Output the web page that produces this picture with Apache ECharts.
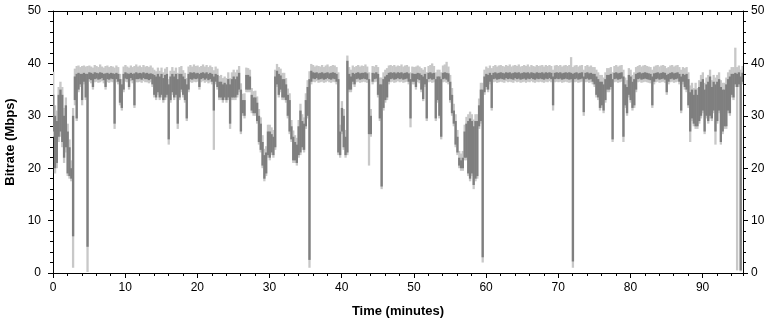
<!DOCTYPE html>
<html>
<head>
<meta charset="utf-8">
<script src="https://cdn.jsdelivr.net/npm/echarts@6/dist/echarts.min.js"></script>
<style>
  html, body { margin: 0; padding: 0; background: #fff; }
  #chart { width: 775px; height: 320px; }
</style>
</head>
<body>
<div id="chart"></div>
<script>
// one bin every quarter minute, starting at t = 0
const STEP = 0.25
const X_MAX = 95.6

// smoothed bitrate (dark trace): lowest / highest value in each bin, Mbps
const avgLow = [
  27, 20, 21, 26, 27, 25, 22, 24, 19, 18.5, 18, 7, 33, 29.5, 35, 36, 33, 36.5, 33.5, 5,
  37, 36.8, 35.5, 37, 37.1, 36.9, 37, 37.2, 36.8, 35.5, 37, 36.9, 37.1, 37, 28.5, 37, 36.5, 32.5, 31.5, 35,
  37.1, 37, 35.5, 37.2, 36.8, 32, 37, 37, 37.1, 36.9, 37.2, 37, 37, 36.8, 37, 36, 34, 33.5, 34.5, 33.5,
  34, 33, 33.5, 34, 25.5, 33, 34.5, 33.5, 34, 28.5, 33.5, 35, 34, 33, 29.5, 35, 37, 36.9, 37.1, 37,
  37.1, 35.5, 37, 37.2, 36.9, 37.1, 36.8, 37, 36.5, 31, 36.5, 35.5, 33.5, 33.5, 33, 33.5, 33, 33.5, 28.5, 33.5,
  33.5, 33.5, 34, 35, 27, 30.5, 30, 35, 35, 35, 31, 30.5, 30.5, 29, 25, 23.5, 20.5, 18, 19, 22.5,
  22, 23, 22.5, 24, 36, 34, 35, 33.5, 33.5, 33, 30, 27, 25.5, 21.5, 21.5, 21, 22.5, 23, 24, 23.5,
  28, 30, 2.5, 36.5, 37.1, 37, 37.2, 36.9, 37, 37.1, 36.9, 37, 37.2, 37, 36.9, 37.1, 37, 36.5, 23, 22.5,
  27, 24, 22.5, 23, 35, 35, 36.5, 36, 37, 37.1, 36.9, 37, 37.1, 37, 36.9, 26.5, 26.5, 36.5, 37, 37.1,
  34, 29.5, 16.5, 31.5, 33, 33.5, 36.5, 37, 37.1, 36.9, 37, 37.2, 37, 37.1, 36.9, 37, 37.1, 36.5, 29.5, 36.5,
  36.5, 35.5, 37, 36.8, 35, 33.2, 36, 29.5, 37, 37.1, 36.9, 37, 29.5, 33, 30, 26, 37, 37.1, 36.9, 36.5,
  33, 30.5, 28.5, 24.5, 23, 20.5, 20, 20, 22, 22, 19, 18, 19, 16.8, 18, 18.5, 28, 29, 3, 34.5,
  35.5, 35, 36.5, 31.5, 37, 37.1, 36.9, 37, 37.1, 37, 36.9, 37.2, 37, 37.1, 37, 36.9, 37.2, 37, 37.1, 36.9,
  37, 37.1, 36.9, 37.1, 37, 37.2, 37, 36.9, 37.1, 37, 37.1, 37, 36.9, 37.1, 37, 37.2, 37, 32, 37, 37.1,
  37, 37.1, 36.9, 37, 37.1, 37, 36.9, 37, 2.2, 37, 37.1, 36.9, 37, 37.1, 30.7, 37, 37.1, 36.9, 37, 36.5,
  36, 34, 33.5, 31.5, 32, 31, 33, 35, 35, 35.5, 25.5, 37, 37.1, 36.9, 37, 37.1, 26, 32, 30.5, 34,
  33, 31.5, 32, 35, 37, 37.1, 36.9, 37, 37.1, 37, 36.9, 36.8, 32, 36.5, 37, 37.1, 36.9, 37, 37.1, 36.9,
  34.5, 36.5, 37, 37.1, 36.9, 37, 37.1, 36.5, 31, 36.5, 35.5, 35, 32, 27, 29.5, 28.5, 28, 28, 29, 30,
  31, 27, 30, 29, 30, 29.5, 31, 27, 29, 31, 25, 27, 28, 28, 31, 30.5, 34, 33.5, 36, 35.5,
  36, 0.5, 36.5
]
const avgHigh = [
  34, 30, 29, 34, 35, 34, 30, 32, 27, 24, 20, 30, 37.5, 38, 38.2, 38, 38, 38.2, 38, 38,
  38.3, 38.2, 38, 38.3, 38.2, 38.1, 38.3, 38.2, 38, 38.1, 38.2, 38, 38.2, 38.1, 38, 38.2, 38, 37, 36, 38,
  38.3, 38.1, 38, 38.2, 38, 38.1, 38.3, 38.1, 38.2, 38.1, 38.3, 38.1, 38.2, 38, 38.1, 38, 37.8, 37.5, 38, 37.5,
  38, 37.2, 37.8, 38, 36, 37.5, 38, 37.5, 38, 37, 38, 38, 37.5, 37, 36, 38, 38.3, 38.2, 38.3, 38.1,
  38.2, 38, 38.2, 38.3, 38.1, 38.3, 38, 38.2, 38, 37.5, 38, 37.8, 36.5, 36.5, 36, 36.3, 36, 37, 36, 37,
  37.5, 37, 37.5, 38.2, 35, 33, 33, 37.8, 37.8, 37.5, 34, 33.5, 33.5, 32.5, 30, 28.5, 25, 22.5, 23, 27,
  27, 26.5, 26, 37.5, 38.6, 38, 37.7, 37, 37, 36, 34, 33, 28, 26, 25, 24.5, 28, 31, 29, 28.5,
  33, 35.5, 37, 38.6, 38.3, 38.2, 38.3, 38.1, 38.2, 38.3, 38.1, 38.2, 38.3, 38.1, 38.2, 38.3, 38.2, 38, 37, 27,
  31.5, 30, 26, 40.5, 38, 37.5, 38.2, 38, 38.2, 38.3, 38.1, 38.2, 38.2, 38.3, 38.1, 37, 30, 38.2, 38.1, 38.3,
  38, 36, 36, 37, 37.5, 37.8, 38.2, 38.3, 38.2, 38.3, 38.1, 38.3, 38.2, 38.3, 38.1, 38.2, 38.3, 38.1, 37, 38.1,
  38, 38, 38.2, 38.1, 37.8, 37.5, 38, 37, 38.2, 38.3, 38.1, 38.2, 37, 37.5, 37.5, 37, 38.2, 38.3, 38.2, 38.1,
  36.5, 34, 31, 29, 26, 22, 21.5, 22, 27, 28.5, 29, 29.5, 29, 28, 29, 29, 32, 35, 35, 37.5,
  38, 37.8, 38.2, 37.8, 38.2, 38.3, 38.1, 38.2, 38.3, 38.2, 38.1, 38.3, 38.2, 38.3, 38.1, 38.2, 38.3, 38.2, 38.3, 38.1,
  38.2, 38.3, 38.2, 38.3, 38.1, 38.3, 38.2, 38.1, 38.3, 38.2, 38.2, 38.3, 38.1, 38.3, 38.2, 38.3, 38.2, 37.5, 38.2, 38.3,
  38.2, 38.3, 38.1, 38.2, 38.3, 38.2, 38.3, 38.2, 38, 38.2, 38.3, 38.1, 38.2, 38.3, 37.5, 38.2, 38.3, 38.1, 38.2, 38,
  38, 37.5, 37, 36.5, 36.5, 36, 37, 37.8, 37.8, 38, 37, 38.2, 38.3, 38.1, 38.2, 38.3, 37.5, 36, 35.5, 37.8,
  37.5, 36.5, 37, 38, 38.2, 38.3, 38.1, 38.2, 38.3, 38.2, 38.1, 38, 37.5, 38.1, 38.2, 38.3, 38.1, 38.2, 38.3, 38.2,
  37.8, 38, 38.2, 38.3, 38.1, 38.2, 38.3, 38, 37.5, 38, 37.8, 38, 37, 34.5, 35, 34, 35, 34, 35.5, 36.5,
  37, 35, 36, 36.5, 37.5, 35.5, 36.5, 36, 36.5, 37, 35.5, 35, 35, 36, 37, 37.5, 38, 38, 38.2, 38,
  38.3, 37.5, 38.2
]

// raw bitrate (light trace): lowest / highest value in each bin, Mbps
const rawLow = [
  26, 19, 20, 25, 26, 24, 21, 23, 18.5, 18, 17.5, 1, 32, 29, 34.5, 35.5, 32, 36, 33, 0.2,
  36.5, 36.2, 35, 36.4, 36.5, 36.3, 36.4, 36.6, 36.2, 35, 36.4, 36.3, 36.5, 36.4, 27.5, 36.4, 36, 32, 31, 34.5,
  36.5, 36.4, 35, 36.6, 36.2, 31.5, 36.4, 36.4, 36.5, 36.3, 36.6, 36.4, 36.4, 36.2, 36.4, 35.5, 33.5, 33, 34, 33,
  33.5, 32.5, 33, 33.5, 24.5, 32.5, 34, 33, 33.5, 27.5, 33, 34.5, 33.5, 32.5, 29, 34.5, 36.4, 36.3, 36.5, 36.4,
  36.5, 35, 36.4, 36.6, 36.3, 36.5, 36.2, 36.4, 36, 23.5, 36, 35, 33, 33, 32.5, 33, 32.5, 33, 27.5, 33,
  33, 33, 33.5, 34.5, 26.5, 30, 29.5, 34.5, 34.5, 34.5, 30.5, 30, 30, 28.5, 24.5, 23, 20, 17.5, 18.5, 22,
  21.5, 22.5, 22, 23.5, 35.5, 33.5, 34.5, 33, 33, 32.5, 29.5, 26.5, 25, 21, 21, 20.5, 22, 22.5, 23.5, 23,
  27.5, 29.5, 1, 36, 36.5, 36.4, 36.6, 36.3, 36.4, 36.5, 36.3, 36.4, 36.6, 36.4, 36.3, 36.5, 36.4, 36, 22.5, 22,
  26.5, 23.5, 22, 22.5, 34.5, 34.5, 36, 35.5, 36.4, 36.5, 36.3, 36.4, 36.5, 36.4, 36.3, 20.5, 26, 36, 36.4, 36.5,
  33.5, 29, 16, 31, 32.5, 33, 36, 36.4, 36.5, 36.3, 36.4, 36.6, 36.4, 36.5, 36.3, 36.4, 36.5, 36, 27.8, 36,
  36, 35, 36.4, 36.2, 34.5, 32.8, 35.5, 29, 36.4, 36.5, 36.3, 36.4, 29, 32.5, 29.5, 25.5, 36.4, 36.5, 36.3, 36,
  32.5, 30, 28, 24, 22.5, 20, 19.5, 19.5, 21.5, 21.5, 18.5, 17.5, 18.5, 16, 17.5, 18, 27.5, 28.5, 2, 34,
  35, 34.5, 36, 31, 36.4, 36.5, 36.3, 36.4, 36.5, 36.4, 36.3, 36.6, 36.4, 36.5, 36.4, 36.3, 36.6, 36.4, 36.5, 36.3,
  36.4, 36.5, 36.3, 36.5, 36.4, 36.6, 36.4, 36.3, 36.5, 36.4, 36.5, 36.4, 36.3, 36.5, 36.4, 36.6, 36.4, 31, 36.4, 36.5,
  36.4, 36.5, 36.3, 36.4, 36.5, 36.4, 36.3, 36.4, 1, 36.4, 36.5, 36.3, 36.4, 36.5, 30, 36.4, 36.5, 36.3, 36.4, 36,
  35.5, 33.5, 33, 31, 31.5, 30.5, 32.5, 34.5, 34.5, 35, 25, 36.4, 36.5, 36.3, 36.4, 36.5, 25, 31.5, 30, 33.5,
  32.5, 31, 31.5, 34.5, 36.4, 36.5, 36.3, 36.4, 36.5, 36.4, 36.3, 36.2, 31.5, 36, 36.4, 36.5, 36.3, 36.4, 36.5, 36.3,
  34, 36, 36.4, 36.5, 36.3, 36.4, 36.5, 36, 30.5, 36, 35, 34.5, 31.5, 25, 29, 28, 27.5, 27.5, 28.5, 29.5,
  30.5, 26.5, 29.5, 28.5, 29.5, 29, 30.5, 24.5, 28.5, 30.5, 24.5, 26.5, 27.5, 27.5, 30.5, 30, 33.5, 33, 35.5, 0.5,
  35.5, 0.3, 36
]
const rawHigh = [
  38.4, 32, 31, 35.5, 36.5, 35.5, 31.5, 33.5, 28.5, 25.5, 21.5, 31.5, 39, 39.5, 39.6, 39.3, 39.5, 39.6, 39.4, 39.5,
  39.6, 39.4, 39.2, 39.7, 39.5, 39.3, 39.8, 39.4, 39.2, 39.5, 39.6, 39.3, 39.5, 39.4, 39.2, 39.6, 39.3, 38, 37, 39.4,
  39.7, 39.4, 39.2, 39.6, 39.3, 39.5, 39.8, 39.4, 39.6, 39.3, 39.7, 39.4, 39.5, 39.3, 39.6, 39.2, 38.8, 38.5, 39.2, 38.6,
  39.2, 38.3, 39, 39.3, 37, 38.6, 39.3, 38.6, 39.2, 38.2, 39.3, 39.5, 38.7, 38.2, 37.2, 39.4, 39.7, 39.4, 39.8, 39.5,
  39.6, 39.3, 39.5, 39.8, 39.4, 39.7, 39.3, 39.6, 39.3, 38.7, 39.4, 39, 37.6, 37.8, 37.2, 37.5, 37.2, 38.3, 37.2, 38.3,
  38.8, 38.3, 38.8, 39.5, 36.2, 34.2, 34.3, 39.2, 39.1, 38.8, 35.3, 34.7, 34.8, 33.7, 31.3, 29.7, 26.3, 23.7, 24.2, 28.3,
  28.3, 27.8, 27.3, 38.8, 39.9, 39.3, 39, 38.2, 38.2, 37.2, 35.2, 34.3, 29.2, 27.2, 26.3, 25.8, 29.2, 32.3, 30.3, 29.7,
  34.3, 36.8, 38.5, 39.9, 39.7, 39.4, 39.6, 39.5, 39.4, 39.7, 39.3, 39.6, 39.8, 39.4, 39.5, 39.7, 39.6, 39.3, 38.3, 28.3,
  32.8, 31.3, 27.3, 41.5, 39.3, 38.8, 39.6, 39.3, 39.5, 39.7, 39.4, 39.6, 39.5, 39.8, 39.4, 38.3, 31.3, 39.5, 39.4, 39.7,
  39.3, 37.3, 37.3, 38.3, 38.8, 39.1, 39.6, 39.7, 39.5, 39.7, 39.4, 39.6, 39.5, 39.8, 39.4, 39.6, 39.7, 39.4, 38.3, 39.4,
  39.3, 39.4, 39.6, 39.4, 39.1, 38.8, 39.3, 38.3, 39.5, 39.7, 40, 39.5, 38.3, 38.8, 38.8, 38.3, 39.6, 39.8, 40.3, 39.4,
  37.8, 35.3, 32.3, 30.3, 27.3, 23.3, 22.8, 23.3, 28.3, 29.8, 30.3, 30.8, 30.3, 29.3, 30.3, 30.3, 33.3, 36.3, 36.3, 38.8,
  39.4, 39.1, 39.6, 39.1, 39.5, 39.7, 39.4, 39.6, 39.7, 39.5, 39.4, 39.7, 39.5, 39.8, 39.4, 39.6, 39.7, 39.5, 39.8, 39.4,
  39.5, 39.7, 39.5, 39.8, 39.4, 39.7, 39.5, 39.4, 39.7, 39.5, 39.6, 39.7, 39.4, 39.7, 39.5, 39.7, 39.5, 38.8, 39.6, 39.7,
  39.5, 39.7, 39.4, 39.6, 39.7, 39.5, 39.7, 41.2, 39.3, 39.6, 39.7, 39.4, 39.6, 39.7, 38.8, 39.5, 39.7, 39.4, 39.6, 39.3,
  39.3, 38.8, 38.3, 37.8, 37.8, 37.3, 38.3, 39.1, 39.1, 39.3, 38.3, 39.5, 39.7, 39.4, 39.6, 39.7, 38.8, 37.3, 36.8, 39.1,
  38.8, 37.8, 38.3, 39.3, 39.5, 39.7, 39.4, 39.6, 39.7, 39.5, 39.4, 39.3, 38.8, 39.4, 39.6, 39.7, 39.4, 39.6, 39.7, 39.5,
  39.1, 39.3, 39.6, 39.7, 39.4, 39.6, 39.7, 39.3, 38.8, 39.3, 39.1, 39.3, 38.3, 35.8, 36.3, 35.3, 36.3, 35.3, 36.8, 37.8,
  38.3, 36.3, 37.3, 37.8, 38.8, 36.8, 37.8, 37.3, 37.8, 38.3, 36.8, 36.3, 36.3, 37.3, 38.3, 38.8, 39.3, 39.3, 43, 39.3,
  39.6, 38.8, 39.5
]

const FONT = '"Liberation Sans", Arial, sans-serif'
const DARK = '#7f7f7f'
const LIGHT = '#c8c8c8'

// [time, low, high] rows for the custom series
const binRows = (lo, hi) => lo.map((v, i) => [i * STEP, v, hi[i]])

// each bin is a thin vertical column from its low to its high value
const renderBin = color => (params, api) => {
  const t = api.value(0)
  const bottom = api.coord([t, api.value(1)])
  const top = api.coord([t, api.value(2)])
  const w = api.size([STEP, 0])[0]
  return {
    type: 'rect',
    shape: {
      x: bottom[0] - w / 2,
      y: top[1],
      width: w + 0.5,
      height: Math.max(bottom[1] - top[1], 1)
    },
    style: { fill: color }
  }
}

const chart = echarts.init(document.getElementById('chart'))

const xBase = {
  type: 'value',
  min: 0,
  max: X_MAX,
  splitLine: { show: false },
  axisLine: { show: true, onZero: false, lineStyle: { color: '#000', width: 1 } }
}
const yBase = {
  type: 'value',
  min: 0,
  max: 50,
  interval: 10,
  splitLine: { show: false },
  axisLine: { show: true, onZero: false, lineStyle: { color: '#000', width: 1 } },
  axisTick: { show: true, length: 5, lineStyle: { color: '#000' } },
  minorTick: { show: true, splitNumber: 5, length: 3, lineStyle: { color: '#000' } }
}

chart.setOption({
  animation: false,
  backgroundColor: '#fff',
  grid: { left: 53, right: 32, top: 11, bottom: 47, containLabel: false, outerBoundsMode: 'none' },
  xAxis: [
    {
      ...xBase,
      position: 'bottom',
      interval: 10,
      axisTick: { show: true, length: 5, lineStyle: { color: '#000' } },
      axisLabel: { showMaxLabel: false, margin: 9, fontSize: 12, color: '#000', fontFamily: FONT },
      name: 'Time (minutes)',
      nameLocation: 'middle',
      nameGap: 32,
      nameTextStyle: { fontSize: 13, fontWeight: 'bold', color: '#000', fontFamily: FONT }
    },
    {
      // 2-minute minor ticks along the bottom
      ...xBase,
      position: 'bottom',
      interval: 2,
      axisLine: { show: false },
      axisTick: { show: true, length: 3, lineStyle: { color: '#000' } },
      axisLabel: { show: false }
    },
    {
      ...xBase,
      position: 'top',
      interval: 2,
      axisTick: { show: true, inside: true, length: 4, lineStyle: { color: '#000' } },
      axisLabel: { show: false }
    }
  ],
  yAxis: [
    {
      ...yBase,
      position: 'left',
      axisLabel: { margin: 12, fontSize: 12, color: '#000', fontFamily: FONT },
      name: 'Bitrate (Mbps)',
      nameLocation: 'middle',
      nameGap: 36,
      nameTextStyle: { fontSize: 13, fontWeight: 'bold', color: '#000', fontFamily: FONT }
    },
    {
      ...yBase,
      position: 'right',
      axisLabel: { margin: 8, fontSize: 12, color: '#000', fontFamily: FONT }
    }
  ],
  series: [
    {
      name: 'raw',
      type: 'custom',
      clip: true,
      encode: { x: 0, y: [1, 2] },
      data: binRows(rawLow, rawHigh),
      renderItem: renderBin(LIGHT),
      z: 2
    },
    {
      name: 'average',
      type: 'custom',
      clip: true,
      encode: { x: 0, y: [1, 2] },
      data: binRows(avgLow, avgHigh),
      renderItem: renderBin(DARK),
      z: 3
    }
  ]
})
</script>
</body>
</html>
